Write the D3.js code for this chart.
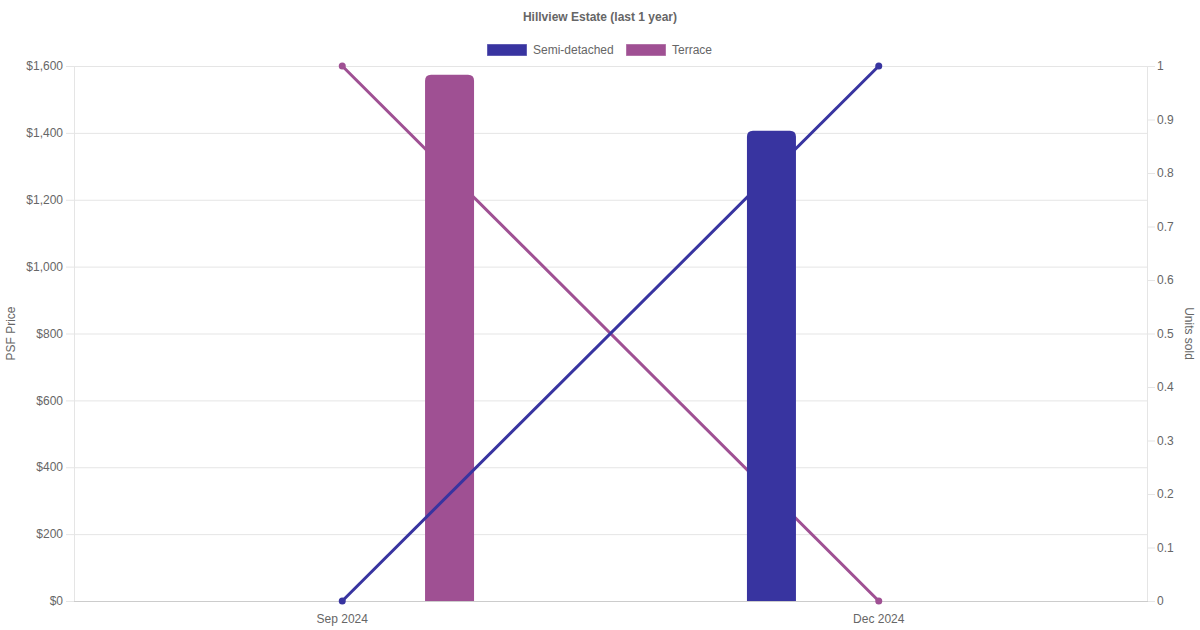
<!DOCTYPE html>
<html><head><meta charset="utf-8">
<script src="https://cdn.jsdelivr.net/npm/d3@7"></script>
<style>body{margin:0;background:#fff}svg{display:block;font-family:"Liberation Sans",Arial,sans-serif}</style>
</head><body><svg id="c" width="1200" height="630"></svg>
<script>
const categories = ["Sep 2024", "Dec 2024"];
const seriesNames = ["Semi-detached", "Terrace"];
const seriesColors = ["#3834a0", "#9f5093"];
const psfSemi = [null, 1406];
const psfTerrace = [1574, null];
const unitsSemi = [0, 1];
const unitsTerrace = [1, 0];
const leftTicks = [0, 200, 400, 600, 800, 1000, 1200, 1400, 1600];
const rightTicks = [0, 0.1, 0.2, 0.3, 0.4, 0.5, 0.6, 0.7, 0.8, 0.9, 1];

const svg = d3.select("#c");
const L = 74, R = 1147, T = 66, B = 601;
const txt = "#666";

const x0 = d3.scaleBand().domain(categories).range([L, R]).padding(0);
const bw = x0.bandwidth();
const x1 = d3.scaleBand().domain(seriesNames).range([bw*0.1, bw*0.9]);
const yL = d3.scaleLinear().domain([0, 1600]).range([B, T]);
const yR = d3.scaleLinear().domain([0, 1]).range([B, T]);

// grid
svg.append("g").selectAll("line").data(leftTicks).join("line")
  .attr("x1", L-8).attr("x2", R).attr("y1", d=>yL(d)+0.5).attr("y2", d=>yL(d)+0.5)
  .attr("stroke", "#e5e5e5").attr("stroke-width", 1);
svg.append("line").attr("x1", L+0.5).attr("x2", L+0.5).attr("y1", T).attr("y2", B)
  .attr("stroke", "#e5e5e5");
svg.append("line").attr("x1", R+0.5).attr("x2", R+0.5).attr("y1", T).attr("y2", B)
  .attr("stroke", "#e5e5e5");
svg.append("g").selectAll("line").data(rightTicks).join("line")
  .attr("x1", R).attr("x2", R+8).attr("y1", d=>yR(d)+0.5).attr("y2", d=>yR(d)+0.5)
  .attr("stroke", "#e5e5e5");
svg.append("line").attr("x1", L).attr("x2", R+1).attr("y1", B+0.5).attr("y2", B+0.5)
  .attr("stroke", "#cccccc");

// tick labels
const fmt = d => "$" + d3.format(",")(d);
svg.append("g").selectAll("text").data(leftTicks).join("text")
  .attr("x", 63).attr("y", d=>yL(d)).attr("dy", "0.35em").attr("text-anchor", "end")
  .attr("font-size", 12).attr("fill", txt).text(fmt);
svg.append("g").selectAll("text").data(rightTicks).join("text")
  .attr("x", 1157).attr("y", d=>yR(d)).attr("dy", "0.35em").attr("text-anchor", "start")
  .attr("font-size", 12).attr("fill", txt).text(d=>d3.format("~g")(d));
svg.append("g").selectAll("text").data(categories).join("text")
  .attr("x", d=>x0(d)+bw/2).attr("y", 623).attr("text-anchor", "middle")
  .attr("font-size", 12).attr("fill", txt).text(d=>d);

// axis titles
svg.append("text").attr("transform", `translate(15,${(T+B)/2}) rotate(-90)`)
  .attr("text-anchor", "middle").attr("font-size", 12).attr("fill", txt).text("PSF Price");
svg.append("text").attr("transform", `translate(1185,${(T+B)/2}) rotate(90)`)
  .attr("text-anchor", "middle").attr("font-size", 12).attr("fill", txt).text("Units sold");

// title
svg.append("text").attr("x", 600).attr("y", 21).attr("text-anchor", "middle")
  .attr("font-size", 12).attr("font-weight", "bold").attr("fill", txt).text("Hillview Estate (last 1 year)");

// legend
const legend = [{name: seriesNames[0], color: seriesColors[0], x: 487}, {name: seriesNames[1], color: seriesColors[1], x: 626}];
const lg = svg.append("g").selectAll("g").data(legend).join("g");
lg.append("rect").attr("x", d=>d.x+0.5).attr("y", 44.5).attr("width", 39).attr("height", 11)
  .attr("fill", d=>d.color).attr("stroke", d=>d.color).attr("stroke-opacity", 0.6);
lg.append("text").attr("x", d=>d.x+46).attr("y", 50).attr("dy", "0.35em")
  .attr("font-size", 12).attr("fill", txt).text(d=>d.name);

const unitsData = [unitsSemi, unitsTerrace];
const psfData = [psfSemi, psfTerrace];
const line = d3.line().x((d,i)=>x0(categories[i])+bw/2).y(d=>yR(d));
const maxW = 49, rad = 6;

function drawLine(s) {
  const u = unitsData[s];
  svg.append("path").datum(u).attr("d", line).attr("fill", "none")
    .attr("stroke", seriesColors[s]).attr("stroke-width", 3);
  svg.append("g").selectAll("circle").data(u).join("circle")
    .attr("cx", (d,i)=>x0(categories[i])+bw/2).attr("cy", d=>yR(d)).attr("r", 3.5)
    .attr("fill", seriesColors[s]);
}
function drawBars(s) {
  psfData[s].forEach((v, i) => {
    if (v == null) return;
    const w = Math.min(x1.bandwidth()*0.9, maxW);
    const cx = x0(categories[i]) + x1(seriesNames[s]) + x1.bandwidth()/2;
    const xl = cx - w/2, xr = cx + w/2, yt = yL(v), yb = yL(0);
    const p = `M${xl},${yb}V${yt+rad}Q${xl},${yt} ${xl+rad},${yt}H${xr-rad}Q${xr},${yt} ${xr},${yt+rad}V${yb}Z`;
    svg.append("path").attr("d", p).attr("fill", seriesColors[s]);
  });
}
// draw order: terrace line, terrace bars, semi line, semi bars
drawLine(1);
drawBars(1);
drawLine(0);
drawBars(0);
</script></body></html>
